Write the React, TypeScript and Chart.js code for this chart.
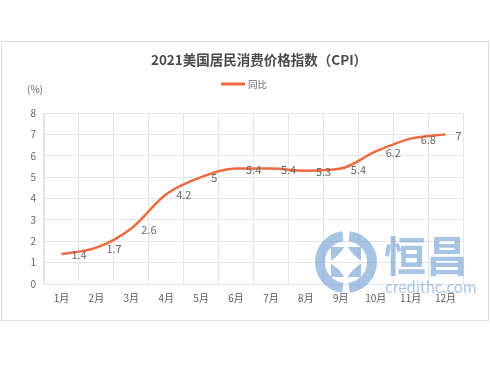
import React, { useEffect, useRef } from "react";
import { Chart, registerables } from "chart.js";

Chart.register(...registerables);

const TITLE = "2021美国居民消费价格指数（CPI）";
const SERIES_NAME = "同比";
const Y_UNIT = "(%)";
const MONTHS = ["1月", "2月", "3月", "4月", "5月", "6月", "7月", "8月", "9月", "10月", "11月", "12月"];
const CPI_YOY = [1.4, 1.7, 2.6, 4.2, 5, 5.4, 5.4, 5.3, 5.4, 6.2, 6.8, 7];
const WATERMARK_CN = "恒昌";
const WATERMARK_EN = "credithc.com";

const FONT = "'Noto Sans CJK SC', 'Noto Sans', sans-serif";
const LINE_COLOR = "#ee6b3f";
const TEXT_COLOR = "#666666";
const GRID_COLOR = "#e6e6e6";
const WM_COLOR = "rgba(120,165,215,0.65)";

const decorPlugin = {
  id: "decor",
  beforeDraw(chart: any) {
    const ctx = chart.ctx;
    ctx.save();
    ctx.fillStyle = "#ffffff";
    ctx.fillRect(0, 0, chart.width, chart.height);
    ctx.strokeStyle = "#dddddd";
    ctx.lineWidth = 1;
    ctx.strokeRect(1.5, 41.5, 487, 279);
    // title
    ctx.fillStyle = "#4a4a4a";
    ctx.font = `bold 13.5px ${FONT}`;
    ctx.textAlign = "center";
    ctx.textBaseline = "middle";
    ctx.fillText(TITLE, 259, 60);
    // legend
    ctx.strokeStyle = LINE_COLOR;
    ctx.lineWidth = 3;
    ctx.beginPath();
    ctx.moveTo(221, 84);
    ctx.lineTo(245, 84);
    ctx.stroke();
    ctx.fillStyle = TEXT_COLOR;
    ctx.font = `9.5px ${FONT}`;
    ctx.textAlign = "left";
    ctx.fillText(SERIES_NAME, 248, 84);
    // unit
    ctx.font = `10px ${FONT}`;
    ctx.textAlign = "center";
    ctx.fillText(Y_UNIT, 35, 89);
    ctx.restore();
  },
  afterDatasetsDraw(chart: any) {
    const ctx = chart.ctx;
    const meta = chart.getDatasetMeta(0);
    const data = chart.data.datasets[0].data;
    ctx.save();
    ctx.fillStyle = TEXT_COLOR;
    ctx.font = `11px ${FONT}`;
    ctx.textAlign = "left";
    ctx.textBaseline = "middle";
    meta.data.forEach((pt: any, i: number) => {
      ctx.fillText(String(data[i]), pt.x + 10, pt.y + 1);
    });
    ctx.restore();
  },
  afterDraw(chart: any) {
    const ctx = chart.ctx;
    ctx.save();
    ctx.fillStyle = WM_COLOR;
    ctx.strokeStyle = WM_COLOR;
    const cx = 346, cy = 262;
    ctx.lineWidth = 10;
    const gap = 0.12;
    ctx.beginPath();
    ctx.arc(cx, cy, 26, -Math.PI / 2 + gap, Math.PI / 2 - gap);
    ctx.stroke();
    ctx.beginPath();
    ctx.arc(cx, cy, 26, Math.PI / 2 + gap, (3 * Math.PI) / 2 - gap);
    ctx.stroke();
    const s = 15, g = 1.5;
    const pieces = [
      [-1, -1],
      [1, -1],
      [1, 1],
      [-1, 1],
    ];
    pieces.forEach(([dx, dy]) => {
      const ox = cx + dx * s, oy = cy + dy * s;
      const ix = cx + dx * g, iy = cy + dy * g;
      ctx.beginPath();
      ctx.moveTo(ox, oy);
      ctx.lineTo(ix, oy);
      ctx.quadraticCurveTo(cx + dx * (s * 0.45), cy + dy * (s * 0.45), ox, iy);
      ctx.closePath();
      ctx.fill();
    });
    ctx.font = `bold 42px ${FONT}`;
    ctx.textAlign = "left";
    ctx.textBaseline = "middle";
    ctx.fillText(WATERMARK_CN, 384, 256);
    ctx.font = `15px ${FONT}`;
    ctx.fillText(WATERMARK_EN, 385, 287);
    ctx.restore();
  },
};

export default function App() {
  const ref = useRef<HTMLCanvasElement | null>(null);
  useEffect(() => {
    if (!ref.current) return;
    const chart = new Chart(ref.current, {
      type: "line",
      data: {
        labels: MONTHS,
        datasets: [
          {
            label: SERIES_NAME,
            data: CPI_YOY,
            borderColor: LINE_COLOR,
            backgroundColor: LINE_COLOR,
            borderWidth: 2.5,
            pointRadius: 0,
            cubicInterpolationMode: "monotone",
            fill: false,
          },
        ],
      },
      options: {
        animation: false,
        responsive: false,
        layout: { padding: { left: 0, right: 27, top: 113, bottom: 0 } },
        plugins: {
          legend: { display: false },
          title: { display: false },
          tooltip: { enabled: false },
        },
        scales: {
          x: {
            type: "category",
            offset: true,
            grid: { offset: true, color: GRID_COLOR, drawTicks: false },
            border: { color: GRID_COLOR },
            ticks: {
              color: "#5c5c5c",
              font: { size: 10, family: FONT },
              padding: 8,
              maxRotation: 0,
              autoSkip: false,
            },
            afterFit: (s: any) => {
              s.height = 84;
            },
          },
          y: {
            min: 0,
            max: 8,
            grid: { color: GRID_COLOR, drawTicks: false },
            border: { color: GRID_COLOR },
            ticks: {
              stepSize: 1,
              color: TEXT_COLOR,
              font: { size: 10, family: FONT },
              padding: 8,
            },
            afterFit: (s: any) => {
              s.width = 44;
            },
          },
        },
      },
      plugins: [decorPlugin],
    });
    return () => chart.destroy();
  }, []);
  return (
    <div style={{ position: "fixed", left: 0, top: 0, width: 490, height: 368, background: "#fff" }}>
      <canvas ref={ref} width={490} height={368} style={{ display: "block" }} />
    </div>
  );
}
